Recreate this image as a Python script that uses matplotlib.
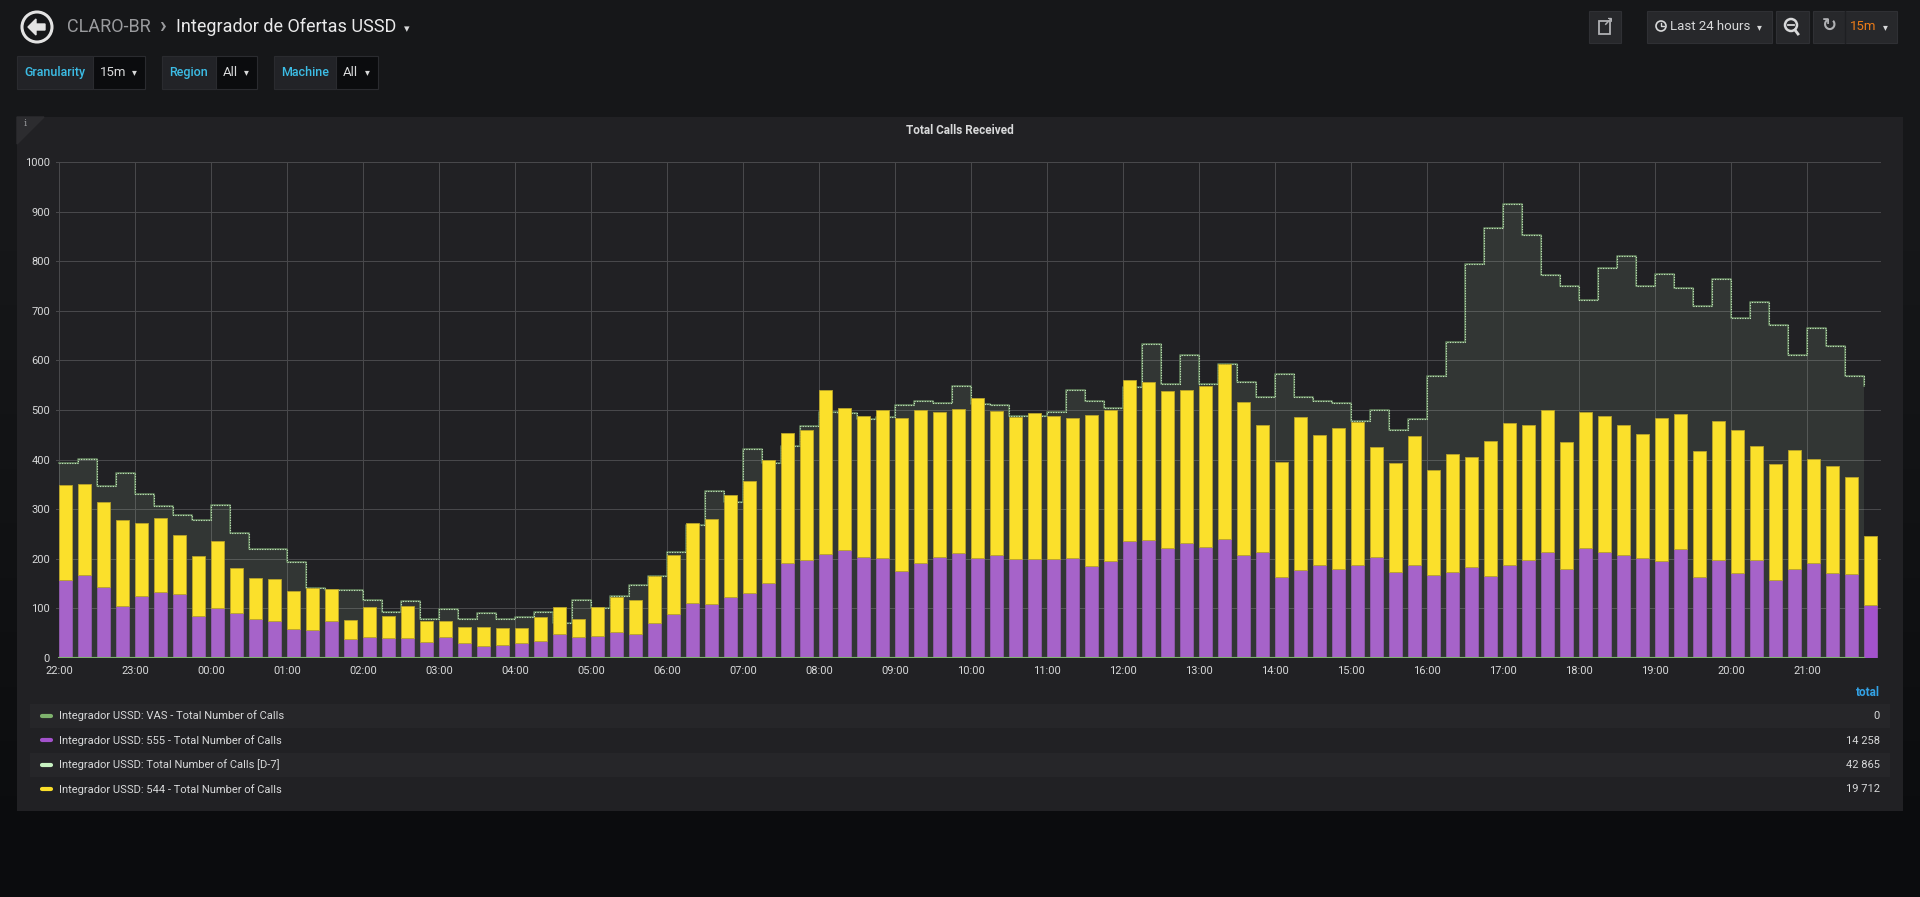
import matplotlib
matplotlib.use('Agg')
import matplotlib.pyplot as plt
import numpy as np
from matplotlib.patches import Rectangle, Circle, Polygon

plt.rcParams['font.family'] = ['Roboto', 'DejaVu Sans']

# 15 min buckets starting 22:00 (96 of them)
calls_555 = [157, 167, 143, 104, 125, 132, 128, 85, 100, 91, 78, 74,
             59, 56, 74, 37, 42, 40, 40, 31, 42, 29, 24, 26,
             30, 34, 48, 42, 44, 53, 48, 70, 89, 111, 108, 123,
             130, 150, 192, 197, 209, 218, 204, 201, 176, 192, 203, 211,
             201, 208, 200, 199, 200, 201, 185, 195, 235, 237, 222, 231,
             223, 239, 208, 214, 163, 177, 188, 179, 188, 204, 173, 187,
             167, 173, 183, 165, 187, 197, 214, 179, 221, 213, 207, 201,
             196, 220, 163, 198, 171, 198, 156, 180, 192, 171, 169, 106]
calls_544 = [192, 184, 171, 175, 146, 150, 119, 121, 135, 91, 84, 86,
             75, 85, 64, 39, 60, 44, 64, 43, 33, 34, 39, 35,
             31, 48, 54, 37, 58, 69, 69, 96, 119, 160, 173, 206,
             226, 249, 262, 263, 331, 286, 284, 300, 308, 307, 292, 291,
             324, 289, 286, 295, 287, 282, 305, 306, 326, 319, 316, 310,
             325, 354, 308, 255, 233, 308, 262, 284, 287, 222, 221, 261,
             212, 239, 223, 272, 286, 272, 286, 257, 274, 275, 262, 250,
             288, 272, 254, 279, 288, 230, 235, 239, 209, 215, 195, 139]
calls_d7 = [393, 402, 347, 372, 330, 306, 288, 278, 309, 252, 220, 219,
            194, 141, 136, 136, 117, 93, 115, 79, 98, 79, 91, 78,
            83, 93, 71, 116, 100, 124, 147, 165, 214, 267, 336, 314,
            421, 393, 428, 468, 495, 493, 482, 485, 510, 519, 514, 549,
            512, 510, 487, 487, 495, 540, 518, 505, 547, 634, 553, 611,
            553, 593, 556, 526, 572, 526, 518, 514, 477, 499, 459, 482,
            568, 637, 795, 867, 915, 853, 773, 751, 722, 786, 810, 751,
            775, 746, 710, 764, 686, 718, 672, 610, 666, 630, 569, 549]
calls_vas = [0, 0, 0, 0, 0, 0, 0, 0, 0, 0, 0, 0, 0, 0, 0, 0, 0, 0, 0, 0, 0, 0, 0, 0,
             0, 0, 0, 0, 0, 0, 0, 0, 0, 0, 0, 0, 0, 0, 0, 0, 0, 0, 0, 0, 0, 0, 0, 0,
             0, 0, 0, 0, 0, 0, 0, 0, 0, 0, 0, 0, 0, 0, 0, 0, 0, 0, 0, 0, 0, 0, 0, 0,
             0, 0, 0, 0, 0, 0, 0, 0, 0, 0, 0, 0, 0, 0, 0, 0, 0, 0, 0, 0, 0, 0, 0, 0]

hour_labels = ['22:00', '23:00', '00:00', '01:00', '02:00', '03:00', '04:00', '05:00',
               '06:00', '07:00', '08:00', '09:00', '10:00', '11:00', '12:00', '13:00',
               '14:00', '15:00', '16:00', '17:00', '18:00', '19:00', '20:00', '21:00']
y_ticks = [0, 100, 200, 300, 400, 500, 600, 700, 800, 900, 1000]

legend_names = ['Integrador USSD: VAS - Total Number of Calls',
                'Integrador USSD: 555 - Total Number of Calls',
                'Integrador USSD: Total Number of Calls [D-7]',
                'Integrador USSD: 544 - Total Number of Calls']
legend_totals = ['0', '14 258', '42 865', '19 712']
legend_colors = ['#7eb26d', '#a352cc', '#c8f2c2', '#fade2a']

TXT = '#d8d9da'
W, H = 1920, 897
fig = plt.figure(figsize=(W / 100, H / 100), dpi=100)

# pixel-space background layer
bg = fig.add_axes([0, 0, 1, 1])
bg.set_xlim(0, W)
bg.set_ylim(H, 0)
bg.axis('off')

yy = np.arange(H)
t = np.clip((yy - 250) / 600.0, 0, 1)[:, None]
c_top = np.array([22, 23, 25]) / 255.0
c_bot = np.array([11, 12, 14]) / 255.0
grad = (c_top * (1 - t) + c_bot * t)[:, None, :]
bg.imshow(grad, extent=(0, W, H, 0), aspect='auto', zorder=0)

# header
bg.add_patch(Circle((37, 27), 15, facecolor='none', edgecolor='#e3e3e3', lw=2.2, zorder=2))
bg.add_patch(Polygon([(28, 27), (36, 19), (36, 24), (45, 24), (45, 30), (36, 30), (36, 35)],
                     color='#e3e3e3', zorder=2))
bg.text(67, 27, 'CLARO-BR', fontsize=13, color='#9a9b9e', va='center', ha='left')
bg.text(162, 26, '›', fontsize=16, color='#9a9b9e', va='center', ha='center', fontweight='bold')
bg.text(176, 27, 'Integrador de Ofertas USSD', fontsize=13, color='#e9e9ea', va='center', ha='left')
bg.text(407, 29, '▾', fontsize=8, color=TXT, va='center', ha='center', family='DejaVu Sans')

# template variables
for lx0, lx1, vx1, lab, val in [(17, 93, 145, 'Granularity', '15m'),
                                (162, 215.5, 257, 'Region', 'All'),
                                (274, 336, 378, 'Machine', 'All')]:
    bg.add_patch(Rectangle((lx0, 56), lx1 - lx0, 33, facecolor='#222327', edgecolor='#2a2b2f', lw=0.8, zorder=2))
    bg.add_patch(Rectangle((lx1, 56), vx1 - lx1, 33, facecolor='#0b0c0e', edgecolor='#2a2b2f', lw=0.8, zorder=2))
    bg.text((lx0 + lx1) / 2, 72.5, lab, fontsize=9, color='#3cbde6', va='center', ha='center',
            fontweight='medium', zorder=3)
    bg.text(lx1 + 7, 72.5, val, fontsize=9.5, color=TXT, va='center', ha='left', zorder=3)
    bg.text(vx1 - 11, 72.5, '▾', fontsize=7, color=TXT, va='center', ha='center', family='DejaVu Sans', zorder=3)

# top right buttons
for x0, w in [(1589, 32), (1647, 125), (1776, 33), (1813, 84)]:
    bg.add_patch(Rectangle((x0, 11), w, 32, facecolor='#27282b', edgecolor='#2f3034', lw=0.8, zorder=2))
bg.add_patch(Rectangle((1599, 21), 11, 13, facecolor='none', edgecolor='#b0b1b4', lw=1.3, zorder=3))
bg.text(1608, 22, '↗', fontsize=9, color='#b0b1b4', va='center', ha='center', family='DejaVu Sans',
        fontweight='bold', zorder=4)
bg.add_patch(Circle((1661, 26), 5, facecolor='none', edgecolor=TXT, lw=1.2, zorder=3))
bg.plot([1661, 1661, 1664], [23, 26, 26], color=TXT, lw=1, zorder=3)
bg.text(1670, 26.5, 'Last 24 hours', fontsize=9.5, color=TXT, va='center', ha='left')
bg.text(1759, 27, '▾', fontsize=7, color=TXT, va='center', ha='center', family='DejaVu Sans')
bg.add_patch(Circle((1791, 25), 6, facecolor='none', edgecolor=TXT, lw=1.8, zorder=3))
bg.plot([1788, 1794], [25, 25], color=TXT, lw=1.3, zorder=3)
bg.plot([1795, 1798], [30, 34], color=TXT, lw=2, zorder=3)
bg.text(1829, 26, '↻', fontsize=13, color='#b0b1b4', va='center', ha='center', family='DejaVu Sans', fontweight='bold')
bg.plot([1845, 1845], [11, 43], color='#1e1f22', lw=1)
bg.text(1850, 27, '15m', fontsize=9.5, color='#eb7b18', va='center', ha='left')
bg.text(1885, 27, '▾', fontsize=7, color=TXT, va='center', ha='center', family='DejaVu Sans')

# panel
bg.add_patch(Rectangle((17, 117), 1886, 694, facecolor='#212124', edgecolor='none', zorder=1))
bg.add_patch(Polygon([(17, 117), (44, 117), (17, 144)], color='#2c2c2f', zorder=2))
bg.text(25, 124, 'i', fontsize=7, color='#9a9b9e', va='center', ha='center', family='DejaVu Serif', zorder=3)
bg.text(960, 130, 'Total Calls Received', fontsize=8.5, fontweight='bold', color=TXT, va='center', ha='center')

# legend table
bg.text(1880, 693, 'total', fontsize=8.5, fontweight='bold', color='#33a2e5', va='center', ha='right')
for i, (name, tot, col) in enumerate(zip(legend_names, legend_totals, legend_colors)):
    yc = 716 + i * 24.5
    if i % 2 == 0:
        bg.add_patch(Rectangle((30, yc - 12), 1860, 24, facecolor='#262629', edgecolor='none', zorder=2))
    bg.plot([42, 51], [yc, yc], color=col, lw=3, solid_capstyle='round', zorder=3)
    bg.text(59, yc, name, fontsize=8, color=TXT, va='center', ha='left', zorder=3)
    bg.text(1880, yc, tot, fontsize=8, color=TXT, va='center', ha='right', zorder=3)

# graph
ax = fig.add_axes([56 / W, (H - 657.8) / H, 1825 / W, 495.6 / H])
ax.patch.set_alpha(0)
x = np.arange(len(calls_555)) * 0.25
bar_w = 0.171

ax.fill_between(x, calls_d7, step='post', color='#c8f2c2', alpha=0.1, lw=0, zorder=1)
ax.step(x, calls_d7, where='post', color='#5f7d5a', lw=1.2, zorder=2)
ax.step(x, calls_d7, where='post', color='#c4e6bd', lw=0.8, ls=(0, (1, 1.3)), zorder=2.1)

purple = ['#a663c9'] * (len(calls_555) - 1) + ['#a352cc']
ax.bar(x, calls_555, width=bar_w, align='edge', color=purple, edgecolor='#9058ad', lw=0.6, zorder=3)
ax.bar(x, calls_544, bottom=calls_555, width=bar_w, align='edge', color='#fbe02b',
       edgecolor='#b9a42a', lw=0.6, zorder=3)
ax.plot(x, calls_vas, color='#7eb26d', lw=1.5, zorder=4)

ax.set_xlim(-0.043, 23.97)
ax.set_ylim(0, 1000)
ax.set_xticks(np.arange(len(hour_labels)))
ax.set_xticklabels(hour_labels)
ax.set_yticks(y_ticks)
ax.set_yticklabels([str(v) for v in y_ticks])
ax.tick_params(length=0, colors=TXT, labelsize=8)
ax.tick_params(axis='y', pad=4.3)
ax.tick_params(axis='x', pad=6)
ax.grid(True, color='#48484b', lw=0.75)
ax.set_axisbelow(True)
for s in ax.spines.values():
    s.set_visible(False)

fig.savefig('out.png', dpi=100, facecolor='#161719')
